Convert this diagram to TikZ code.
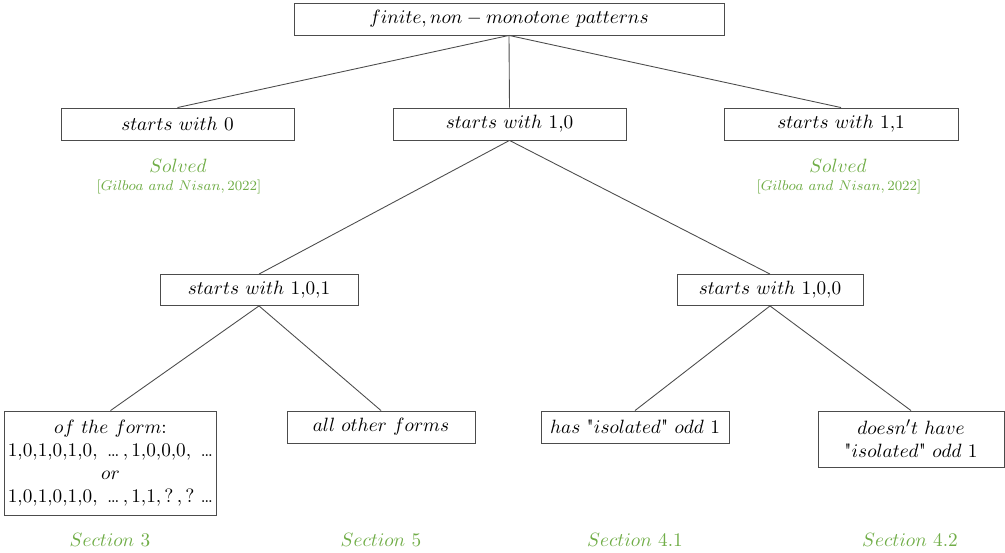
\documentclass[tikz,border=0pt]{standalone}
\usepackage{fontspec}
\usepackage{xcolor}
\definecolor{solvedgreen}{RGB}{112,173,71}
\newfontfamily\plainquote{lmroman10-regular.otf}[Ligatures=TeXOff]
\newcommand{\dts}{\mbox{…}}
\newcommand{\qt}{\mbox{\plainquote"}}
\begin{document}
\begin{tikzpicture}[x=0.02cm, y=-0.02cm,
    box/.style={draw=black!70, line width=0.5pt, minimum height=0.64cm, inner sep=2pt,
        align=center, font=\fontsize{11}{13}\selectfont},
    edge/.style={draw=black!70, line width=0.5pt},
    note/.style={text=solvedgreen, font=\fontsize{11}{13}\selectfont},
    cite/.style={text=solvedgreen, font=\fontsize{8}{10}\selectfont}]

\useasboundingbox (0,0) rectangle (1005,553);

% _____ Root
\node[box, minimum width=8.6cm] (root) at (509,19) {$finite, non - monotone\ patterns$};

% _____ First level
\node[box, minimum width=4.66cm] (zero) at (177.5,124) {$starts\ with\ 0$};
\node[box, minimum width=4.66cm] (onezero) at (509.5,124) {$starts\ with\ 1{,}0$};
\node[box, minimum width=4.68cm] (oneone) at (841,124) {$starts\ with\ 1{,}1$};

\node[note] (solvedL) at (178,166) {$Solved$};
\node[cite] (citeL) at (179,187) {$[Gilboa\ and\ Nisan, 2022]$};
\node[note] (solvedR) at (838,166) {$Solved$};
\node[cite] (citeR) at (839,187) {$[Gilboa\ and\ Nisan, 2022]$};

% _____ Second level
\node[box, minimum width=3.96cm, minimum height=0.62cm] (onezeroone) at (259,290) {$starts\ with\ 1{,}0{,}1$};
\node[box, minimum width=3.72cm, minimum height=0.62cm] (onezerozero) at (770,290) {$starts\ with\ 1{,}0{,}0$};

% _____ Third level
\node[box, minimum width=4.22cm, minimum height=2.08cm] (form) at (110.5,463)
    {$of\ the\ form{:}$\\
     $1{,}0{,}1{,}0{,}1{,}0,\ \dts\,, 1{,}0{,}0{,}0,\ \dts$\\
     $or$\\
     $1{,}0{,}1{,}0{,}1{,}0,\ \dts\,, 1{,}1, ?\,, ?\ \dts$};
\node[box, minimum width=3.76cm] (other) at (381,427) {$all\ other\ forms$};
\node[box, minimum width=3.76cm] (isol) at (635,427) {$has\ \qt isolated\qt\ odd\ 1$};
\node[box, minimum width=3.72cm, minimum height=1.12cm] (noisol) at (911,439)
    {$doesn't\ have$\\ $\qt isolated\qt\ odd\ 1$};

% _____ Sections
\node[note] (secA) at (110,540) {$Section\ 3$};
\node[note] (secB) at (381,540) {$Section\ 5$};
\node[note] (secC) at (635,540) {$Section\ 4.1$};
\node[note] (secD) at (910,540) {$Section\ 4.2$};

% _____ Edges
\draw[edge] (root.south) -- (zero.north);
\draw[edge] (root.south) -- (onezero.north);
\draw[edge] (root.south) -- (oneone.north);
\draw[edge] (onezero.south) -- (onezeroone.north);
\draw[edge] (onezero.south) -- (onezerozero.north);
\draw[edge] (onezeroone.south) -- (form.north);
\draw[edge] (onezeroone.south) -- (other.north);
\draw[edge] (onezerozero.south) -- (isol.north);
\draw[edge] (onezerozero.south) -- (noisol.north);

\end{tikzpicture}
\end{document}
